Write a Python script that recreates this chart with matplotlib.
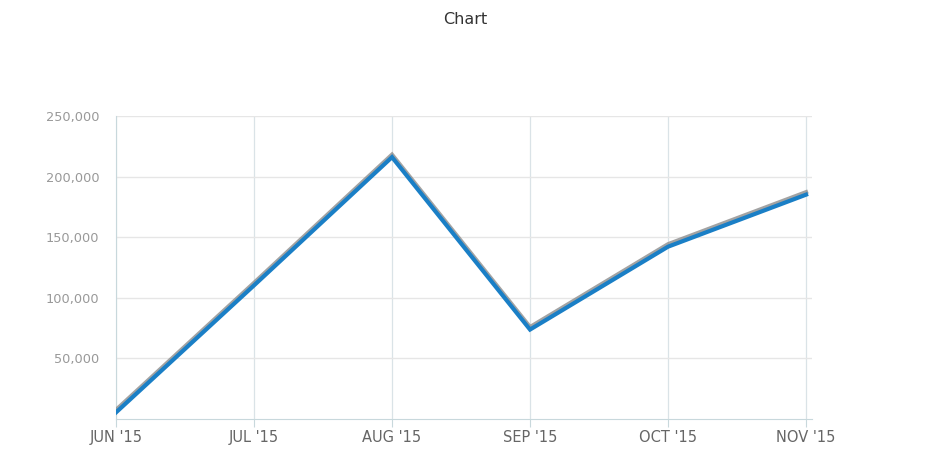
import matplotlib
matplotlib.use("Agg")
import matplotlib.pyplot as plt
import matplotlib.patheffects as pe
from matplotlib.ticker import FuncFormatter

# data
months = ["JUN '15", "JUL '15", "AUG '15", "SEP '15", "OCT '15", "NOV '15"]
values = [5000, 110000, 216000, 73500, 142000, 185000]
y_ticks = [50000, 100000, 150000, 200000, 250000]

fig = plt.figure(figsize=(9.3, 4.65), dpi=100)
ax = fig.add_axes([0.1247, 0.1, 0.7484, 0.6505])

x = list(range(len(months)))
ax.plot(x, values, color="#1a7fc6", lw=3, solid_joinstyle="miter", zorder=3,
        path_effects=[pe.SimpleLineShadow(offset=(0, 1.8), shadow_color="#8c8c8c", alpha=0.8, rho=1),
                      pe.Normal()])

ax.set_xlim(0, 5.043)
ax.set_ylim(0, 250000)
ax.set_xticks(x)
ax.set_xticklabels(months)
ax.set_yticks(y_ticks)
ax.yaxis.set_major_formatter(FuncFormatter(lambda v, p: f"{int(v):,}"))

ax.grid(axis="y", color="#e6e6e6", lw=1)
ax.grid(axis="x", color="#dae3e7", lw=0.9)
ax.set_axisbelow(True)

for s in ["top", "right"]:
    ax.spines[s].set_visible(False)
ax.spines["left"].set_color("#c8d8dc")
ax.spines["bottom"].set_color("#c8d8dc")

ax.tick_params(axis="y", length=0, labelsize=9.3, labelcolor="#999999", pad=12)
ax.tick_params(axis="x", length=6, color="#c8d8dc", labelsize=10.5, labelcolor="#666666", pad=2)

fig.suptitle("Chart", y=0.975, fontsize=11.5, color="#333333")

fig.savefig("out.png", dpi=100)
